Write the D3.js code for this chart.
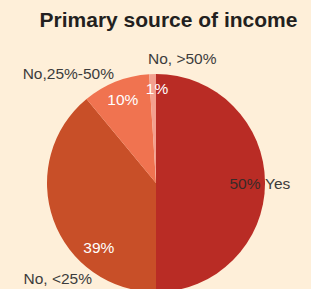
<!DOCTYPE html>
<html>
<head>
<meta charset="utf-8">
<script src="https://cdn.jsdelivr.net/npm/d3@7"></script>
<style>
  html, body { margin: 0; padding: 0; background: #feefd9; }
  svg { display: block; }
  text { font-family: "Liberation Sans", Arial, sans-serif; }
</style>
</head>
<body>
<script>
// chart data
const categories = ["Yes", "No, <25%", "No,25%-50%", "No, >50%"];
const shares = [50, 39, 10, 1];
const colours = ["#b92c25", "#c84f28", "#f07350", "#f3a08f"];

const width = 311,
    height = 289,
    cx = 156,
    cy = 183,
    radius = 109;

// label placement (inner: angle in degrees from top, radius; outer: offset from centre)
const labelLayout = {
    "Yes": { inner: [90, 89], outer: [109, 6, "start"], dark: true },
    "No, <25%": { inner: [221.7, 86], outer: [-64, 101, "end"] },
    "No,25%-50%": { inner: [338.4, 90], outer: [-42, -104, "end"] },
    "No, >50%": { inner: [0.6, 95], outer: [-8, -119, "start"] },
};

const data = categories.map((c, i) => ({ name: c, value: shares[i], colour: colours[i] }));

const svg = d3.select("body").append("svg")
    .attr("width", width)
    .attr("height", height);

svg.append("rect")
    .attr("width", width)
    .attr("height", height)
    .attr("fill", "#feefd9");

svg.append("text")
    .attr("x", 168.5)
    .attr("y", 27)
    .attr("text-anchor", "middle")
    .attr("font-size", "21px")
    .attr("font-weight", "bold")
    .attr("fill", "#231f20")
    .text("Primary source of income");

const pie = d3.pie().sort(null).value(d => d.value);
const arc = d3.arc().innerRadius(0).outerRadius(radius);

const g = svg.append("g").attr("transform", `translate(${cx},${cy})`);

g.selectAll("path")
    .data(pie(data))
    .enter()
    .append("path")
    .attr("d", arc)
    .attr("fill", d => d.data.colour);

// percentage labels
g.selectAll("text.pct")
    .data(pie(data))
    .enter()
    .append("text")
    .attr("class", "pct")
    .attr("x", d => {
        const l = labelLayout[d.data.name].inner;
        return l[1] * Math.sin(l[0] * Math.PI / 180);
    })
    .attr("y", d => {
        const l = labelLayout[d.data.name].inner;
        return -l[1] * Math.cos(l[0] * Math.PI / 180);
    })
    .attr("dy", "0.36em")
    .attr("text-anchor", "middle")
    .attr("font-size", "15.5px")
    .attr("fill", d => labelLayout[d.data.name].dark ? "#3a2a28" : "#ffffff")
    .text(d => d.data.value + "%");

// category labels
g.selectAll("text.cat")
    .data(pie(data))
    .enter()
    .append("text")
    .attr("class", "cat")
    .attr("x", d => labelLayout[d.data.name].outer[0])
    .attr("y", d => labelLayout[d.data.name].outer[1])
    .attr("text-anchor", d => labelLayout[d.data.name].outer[2])
    .attr("font-size", "15.5px")
    .attr("fill", "#3c3c3c")
    .text(d => d.data.name);
</script>
</body>
</html>
